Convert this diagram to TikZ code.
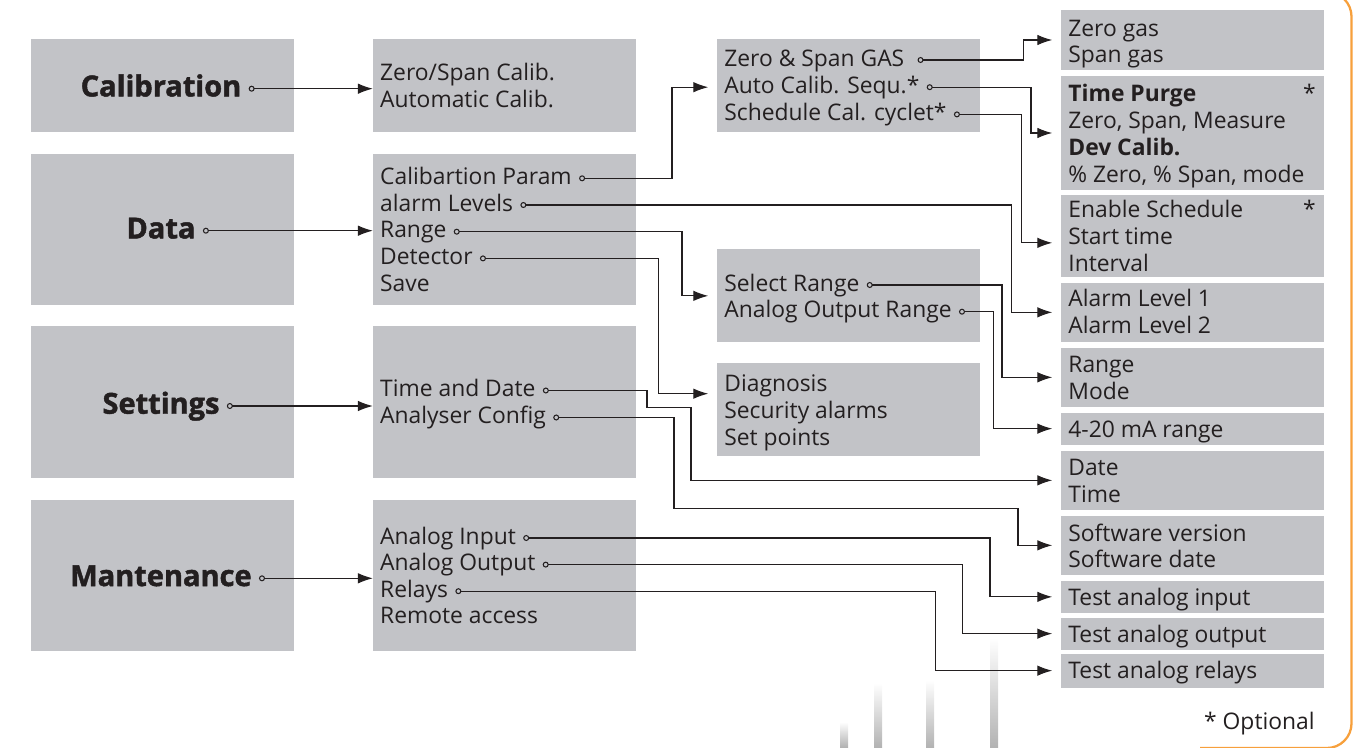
\documentclass[tikz,border=0pt]{standalone}
\usepackage{fontspec}
\setmainfont{Open Sans}
\newfontfamily\heavyfont{Open Sans}[BoldFeatures={FakeBold=1.6}]
\usetikzlibrary{arrows.meta,calc}
\definecolor{boxgray}{RGB}{194,195,199}
\definecolor{ink}{RGB}{35,31,32}
\definecolor{edge}{RGB}{247,160,60}

\begin{document}
\begin{tikzpicture}[x=0.02cm,y=-0.02cm,
    box/.style 2 args={fill=boxgray,anchor=north west,inner sep=0pt,
      minimum width=#1cm,minimum height=#2cm},
    item/.style={anchor=west,inner xsep=4pt,inner ysep=0pt,text height=7pt,
      text depth=0pt,text=ink,font=\fontsize{13}{15}\selectfont},
    title/.style={item,anchor=center,text height=8.8pt,
      font=\heavyfont\fontsize{16.5}{19}\selectfont\bfseries},
    link/.style={draw=ink,line width=0.6pt,
      {Circle[open,length=3.4pt]}-{Latex[length=8.5pt,width=6pt]}},
    tobox/.style={link,shorten >=5pt}]
  \useasboundingbox (0,0) rectangle (1355,747);

  % faded peaks in the background
  \foreach \xx/\yy in {843/722,877/683,929/680,993/638}
    \shade[top color=white,bottom color=black!30] (\xx-3,\yy) rectangle (\xx+5,747);

  \draw[edge,line width=1.3pt,rounded corners=14pt]
    (1200,-8) -| (1351.5,748) -- (1200,748);

  % main menu
  \node[box={5.26}{1.854}] (calb) at (30.4,39) {};
  \node[box={5.26}{3.02}] (datab) at (30.4,153.3) {};
  \node[box={5.26}{3.03}] (setb) at (30.4,326) {};
  \node[box={5.26}{3.03}] (mntb) at (30.4,499.3) {};
  \node[title] (cal) at (161,88.7) {Calibration};
  \node[title] (data) at (161,230.7) {Data};
  \node[title] (set) at (161,406) {Settings};
  \node[title] (mnt) at (161,578.3) {Mantenance};

  % second level
  \node[box={5.26}{1.854}] (calm) at (372.8,39) {};
  \node[box={5.26}{3.02}] (datam) at (372.8,153.3) {};
  \node[box={5.26}{3.03}] (setm) at (372.8,326) {};
  \node[box={5.26}{3.03}] (mntm) at (372.8,499.3) {};
  \foreach \t [count=\i] in {{Zero/Span Calib.},{Automatic Calib.}}
    \node[item] (cm\i) at (372.8,{74.5+27*(\i-1)}) {\t};
  \foreach \t [count=\i] in {Calibartion Param,alarm Levels~,Range~,Detector,Save}
    \node[item] (dm\i) at (372.8,{178.3+26.7*(\i-1)}) {\t};
  \foreach \t [count=\i] in {Time and Date~,Analyser Config~}
    \node[item] (sm\i) at (372.8,{390.5+27*(\i-1)}) {\t};
  \foreach \t [count=\i] in {Analog Input,Analog Output,Relays,Remote access}
    \node[item] (mm\i) at (372.8,{538+26.6*(\i-1)}) {\t};

  % third level
  \node[box={5.26}{1.854}] (zsb) at (717,39) {};
  \node[box={5.26}{1.86}] (srb) at (717,249) {};
  \node[box={5.26}{1.854}] (dgb) at (717,363) {};
  \foreach \t [count=\i] in {Zero \& Span GAS~~,Auto Calib. Sequ.*,Schedule Cal. cyclet*}
    \node[item] (zm\i) at (717,{60+27.2*(\i-1)}) {\t};
  \foreach \t [count=\i] in {Select Range,Analog Output Range}
    \node[item] (rm\i) at (717,{285+26.7*(\i-1)}) {\t};
  \foreach \t [count=\i] in {Diagnosis,Security alarms,Set points}
    \node[item] (dg\i) at (717,{385+27*(\i-1)}) {\t};

  % last level
  \node[box={5.25}{1.186}] (gasb) at (1061,10) {};
  \node[box={5.25}{2.266}] (prgb) at (1061,76) {};
  \node[box={5.25}{1.648}] (schb) at (1061,194.3) {};
  \node[box={5.25}{1.188}] (alb) at (1061,282.3) {};
  \node[box={5.25}{1.188}] (rmb) at (1061,347.3) {};
  \node[box={5.25}{0.64}] (mab) at (1061,412.3) {};
  \node[box={5.25}{1.172}] (dtb) at (1061,450.7) {};
  \node[box={5.25}{1.172}] (swb) at (1061,515.7) {};
  \node[box={5.25}{0.632}] (tinb) at (1061,580.7) {};
  \node[box={5.25}{0.64}] (toutb) at (1061,617.3) {};
  \node[box={5.25}{0.68}] (trelb) at (1061,653.3) {};
  \foreach \t [count=\i] in {Zero gas,Span gas}
    \node[item] (g\i) at (1061,{30+26.7*(\i-1)}) {\t};
  \foreach \t [count=\i] in {{\bfseries Time Purge},{Zero, Span, Measure},
      {\bfseries Dev Calib.},{\% Zero, \% Span, mode}}
    \node[item] (p\i) at (1061,{95.5+27*(\i-1)}) {\t};
  \foreach \t [count=\i] in {Enable Schedule,Start time,Interval}
    \node[item] (s\i) at (1061,{211.5+26.8*(\i-1)}) {\t};
  \node[item,anchor=east] (pstar) at (1323,95.5) {*};
  \node[item,anchor=east] (sstar) at (1323,211.5) {*};
  \foreach \t [count=\i] in {Alarm Level 1,Alarm Level 2}
    \node[item] (a\i) at (1061,{300.5+27*(\i-1)}) {\t};
  \foreach \t [count=\i] in {Range,Mode}
    \node[item] (r\i) at (1061,{366.5+26.5*(\i-1)}) {\t};
  \node[item] (ma) at (1061,431.5) {4-20 mA range};
  \foreach \t [count=\i] in {Date,Time}
    \node[item] (d\i) at (1061,{469+27*(\i-1)}) {\t};
  \foreach \t [count=\i] in {Software version,Software date}
    \node[item] (w\i) at (1061,{535+26.5*(\i-1)}) {\t};
  \node[item] (tin) at (1061,599) {Test analog input};
  \node[item] (tout) at (1061,636) {Test analog output};
  \node[item] (trel) at (1061,672.5) {Test analog relays};
  \node[item,anchor=east] (opt) at (1322,723) {* Optional};

  % connectors
  \draw[link] (cal.east) -- (cal.east -| calm.west);
  \draw[link] (data.east) -- (data.east -| datam.west);
  \draw[link] (set.east) -- (set.east -| setm.west);
  \draw[link] (mnt.east) -- (mnt.east -| mntm.west);

  \draw[tobox] (dm1.east) -| ($(zm2.west)+(-45,0)$) -- (zm2.west);
  \draw[tobox] (dm2.east) -| ($(alb.west)+(-49.5,0)$) -- (alb.west);
  \draw[tobox] (dm3.east) -| ($(srb.west)+(-35,0)$) -- (srb.west);
  \draw[tobox] (dm4.east) -| ($(dgb.west)+(-58.5,-16)$) -- ($(dgb.west)+(0,-16)$);

  \draw[tobox] (zm1.east) -| ($(gasb.west)+(-37.5,0)$) -- (gasb.west);
  \draw[tobox] (zm2.east) -| ($(prgb.west)+(-30,0)$) -- (prgb.west);
  \draw[tobox] (zm3.east) -| ($(schb.west)+(-39.6,7)$) -- ($(schb.west)+(0,7)$);
  \draw[tobox] (rm1.east) -| ($(rmb.west)+(-59,0)$) -- (rmb.west);
  \draw[tobox] (rm2.east) -| ($(mab.west)+(-67.6,0)$) -- (mab.west);

  \draw[tobox] (sm1.east) -| (647,407.7) -| ($(dtb.west)+(-370,0)$) -- (dtb.west);
  \draw[tobox] (sm2.east) -| (674,508.3) -| ($(swb.west)+(-43,0)$) -- (swb.west);
  \draw[tobox] (mm1.east) -| ($(tinb.west)+(-71,0)$) -- (tinb.west);
  \draw[tobox] (mm2.east) -| ($(toutb.west)+(-98.2,0)$) -- (toutb.west);
  \draw[tobox] (mm3.east) -| ($(trelb.west)+(-125.7,0)$) -- (trelb.west);
\end{tikzpicture}
\end{document}
